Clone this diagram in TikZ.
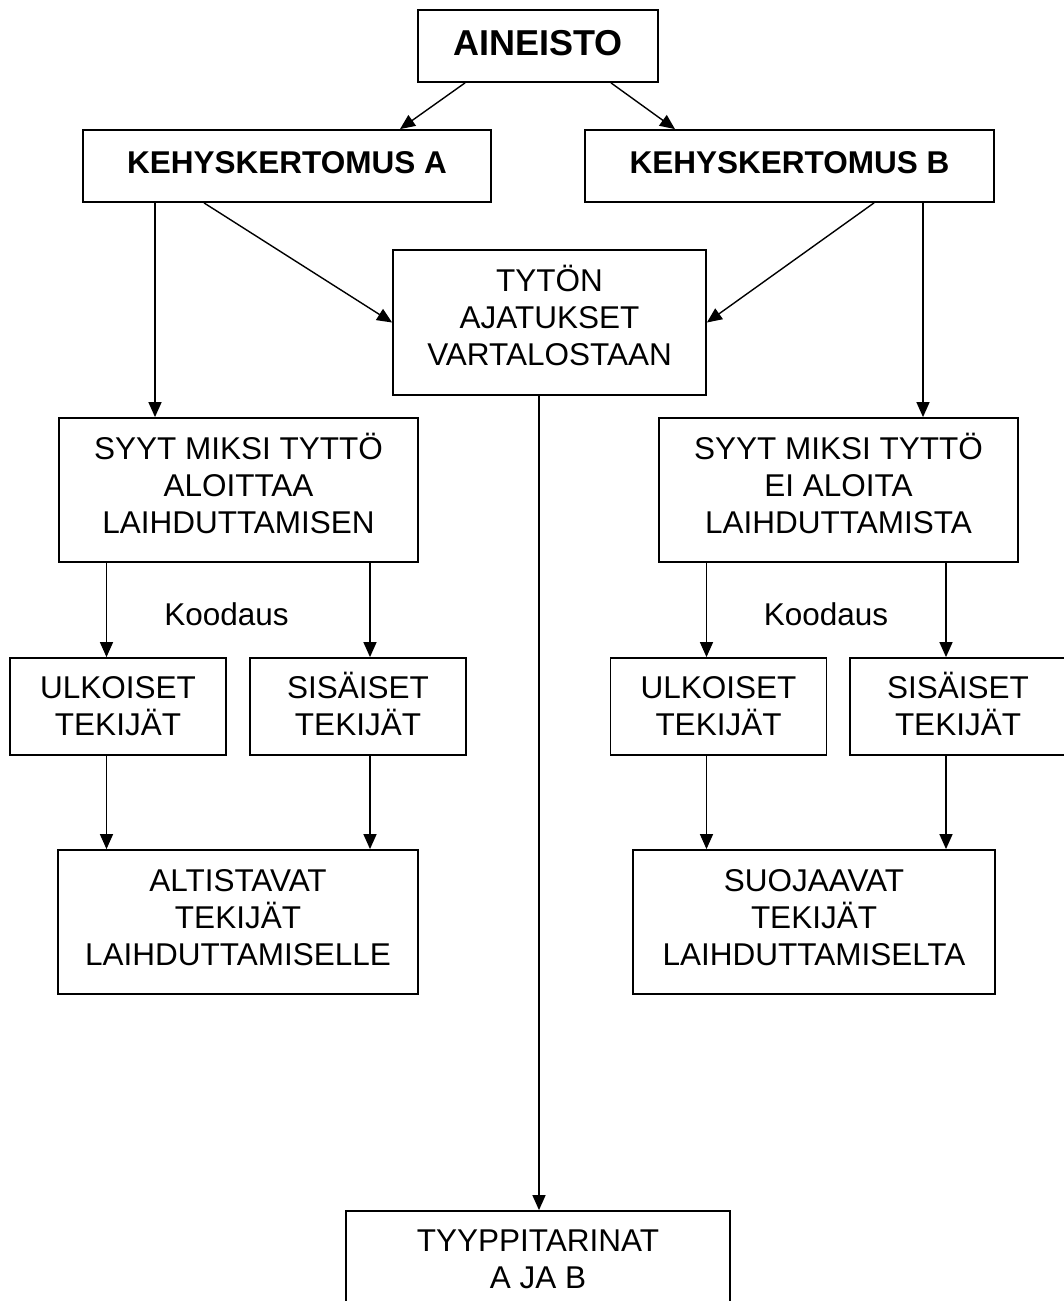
\documentclass[tikz,border=0pt]{standalone}
\usepackage{fontspec}
\setmainfont{Liberation Sans}
\usetikzlibrary{arrows.meta,calc}
\begin{document}
\begin{tikzpicture}[x=1pt,y=-1pt,
  box/.style={draw, line width=1.8pt, inner sep=0pt, align=center,
    font=\fontsize{31.5}{37}\selectfont},
  twoline/.style={box, minimum width=216pt, minimum height=97pt, text height=60pt, text depth=2pt},
  threeline/.style={box, minimum height=144pt, text height=97pt, text depth=11pt},
  titlebox/.style={box, minimum height=72pt, text height=22.5pt, text depth=7pt,
    font=\fontsize{31.5}{37}\selectfont\bfseries},
  arr/.style={line width=1.4pt, -{Triangle[length=15pt,width=13pt]}},
  lbl/.style={inner sep=0pt, anchor=base, font=\fontsize{31.5}{37}\selectfont}
]
\useasboundingbox (0,0) rectangle (1064,1301);

% nodes
\node[box, minimum width=240pt, minimum height=72pt, text height=26pt, text depth=7pt,
  font=\fontsize{36}{40}\selectfont\bfseries] (ain) at (538,46) {AINEISTO};
\node[titlebox, minimum width=408pt] (kehA) at (287,166) {KEHYSKERTOMUS A};
\node[titlebox, minimum width=409pt] (kehB) at (789.5,166) {KEHYSKERTOMUS B};
\node[threeline, minimum width=313pt, minimum height=145pt] (tyt) at (549.5,322.5) {TYTÖN\\AJATUKSET\\VARTALOSTAAN};
\node[threeline, minimum width=359pt] (syyA) at (238.5,490) {SYYT MIKSI TYTTÖ\\ALOITTAA\\LAIHDUTTAMISEN};
\node[threeline, minimum width=359pt] (syyB) at (838.5,490) {SYYT MIKSI TYTTÖ\\EI ALOITA\\LAIHDUTTAMISTA};
\node[lbl] (kooA) at (226.5,625) {Koodaus};
\node[lbl] (kooB) at (826,625) {Koodaus};
\node[twoline] (ulkA) at (118,706.5) {ULKOISET\\TEKIJÄT};
\node[twoline] (sisA) at (358,706.5) {SISÄISET\\TEKIJÄT};
\node[twoline] (ulkB) at (718.5,706.5) {ULKOISET\\TEKIJÄT};
\node[twoline] (sisB) at (958,706.5) {SISÄISET\\TEKIJÄT};
\node[threeline, minimum width=360pt] (alt) at (238,922) {ALTISTAVAT\\TEKIJÄT\\LAIHDUTTAMISELLE};
\node[threeline, minimum width=362pt] (suo) at (814,922) {SUOJAAVAT\\TEKIJÄT\\LAIHDUTTAMISELTA};
\node[twoline, minimum width=384pt] (tyy) at (538,1259.5) {TYYPPITARINAT\\A JA B};

% x positions
\coordinate (xa1) at (465,0);
\coordinate (xa2) at (400,0);
\coordinate (xb1) at (611,0);
\coordinate (xb2) at (675,0);
\coordinate (xka) at (155,0);
\coordinate (xkad) at (204,0);
\coordinate (xkb) at (923,0);
\coordinate (xkbd) at (874,0);
\coordinate (xl1) at (106.5,0);
\coordinate (xl2) at (370,0);
\coordinate (xr1) at (706.5,0);
\coordinate (xr2) at (946,0);
\coordinate (xt) at (539,0);

% connectors
\draw[arr] (ain.south -| xa1) -- (kehA.north -| xa2);
\draw[arr] (ain.south -| xb1) -- (kehB.north -| xb2);
\draw[arr] (kehA.south -| xka) -- (syyA.north -| xka);
\draw[arr] (kehA.south -| xkad) -- (tyt.west);
\draw[arr] (kehB.south -| xkbd) -- (tyt.east);
\draw[arr] (kehB.south -| xkb) -- (syyB.north -| xkb);
\draw[arr] (syyA.south -| xl1) -- (ulkA.north -| xl1);
\draw[arr] (syyA.south -| xl2) -- (sisA.north -| xl2);
\draw[arr] (syyB.south -| xr1) -- (ulkB.north -| xr1);
\draw[arr] (syyB.south -| xr2) -- (sisB.north -| xr2);
\draw[arr] (ulkA.south -| xl1) -- (alt.north -| xl1);
\draw[arr] (sisA.south -| xl2) -- (alt.north -| xl2);
\draw[arr] (ulkB.south -| xr1) -- (suo.north -| xr1);
\draw[arr] (sisB.south -| xr2) -- (suo.north -| xr2);
\draw[arr] (tyt.south -| xt) -- (tyy.north -| xt);
\end{tikzpicture}
\end{document}
